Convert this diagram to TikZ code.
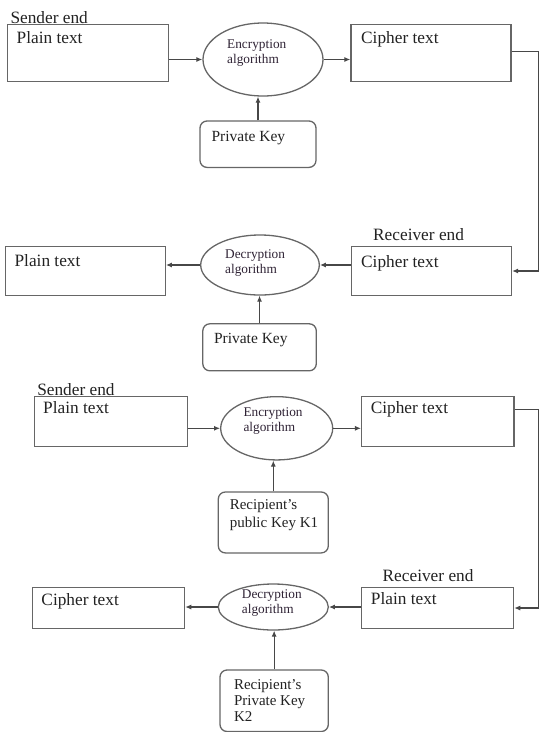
\documentclass[tikz,border=0pt]{standalone}
\usepackage{fontspec}
\setmainfont{Liberation Serif}
\usetikzlibrary{shapes.geometric,arrows.meta}
\definecolor{boxline}{HTML}{666666}
\definecolor{inktext}{HTML}{222222}
\definecolor{algtext}{HTML}{2E2234}

\begin{document}
\begin{tikzpicture}
  [x=1pt,y=-1pt,
   textbox/.style={draw=boxline,line width=1.3pt,rectangle,inner sep=0pt},
   keybox/.style={textbox,rounded corners=7pt},
   algo/.style={draw=boxline,line width=1.3pt,ellipse,inner sep=0pt},
   boxlabel/.style={anchor=base west,inner sep=0pt,text=inktext,font=\fontsize{17.3}{20}\selectfont},
   keylabel/.style={anchor=base west,inner sep=0pt,align=left,text=inktext,font=\fontsize{15.5}{17.5}\selectfont},
   algolabel/.style={anchor=north west,inner sep=0pt,align=left,text=algtext,font=\fontsize{13.3}{15}\selectfont},
   flow/.style={draw=boxline!70!black,line width=1.1pt,-{Latex[length=6pt,width=5pt]}}]
  \useasboundingbox (0,0) rectangle (539,732);
  \coordinate (rim) at (538.8,0);

  % symmetric key: sender end
  \node[boxlabel] (send1) at (10.3,23.4) {Sender end};
  \node[textbox,minimum width=160.8pt,minimum height=56.8pt] (plain1) at (88,53.1) {};
  \node[algo,minimum width=120pt,minimum height=73pt] (enc1) at (263,59.5) {};
  \node[textbox,minimum width=160pt,minimum height=56.8pt] (cipher1) at (431,53.1) {};
  \node[keybox,minimum width=116pt,minimum height=46.4pt] (key1) at (258,144.2) {};
  \node[boxlabel] (plain1t) at (16.5,43.7) {Plain text};
  \node[boxlabel] (cipher1t) at (361,43.7) {Cipher text};
  \node[algolabel] (enc1t) at (227,39.4) {Encryption\\algorithm};
  \node[keylabel] (key1t) at (211.4,141.6) {Private Key};

  % symmetric key: receiver end
  \node[boxlabel] (recv2) at (373,240.6) {Receiver end};
  \node[textbox,minimum width=160.1pt,minimum height=49.2pt] (plain2) at (85.25,271) {};
  \node[algo,minimum width=118.6pt,minimum height=60pt] (dec2) at (260,265) {};
  \node[textbox,minimum width=160.2pt,minimum height=49.2pt] (cipher2) at (431.4,271) {};
  \node[keybox,minimum width=113.5pt,minimum height=47pt] (key2) at (259.55,347.3) {};
  \node[boxlabel] (plain2t) at (14.4,266) {Plain text};
  \node[boxlabel] (cipher2t) at (361,267) {Cipher text};
  \node[algolabel] (dec2t) at (225,249.3) {Decryption\\algorithm};
  \node[keylabel] (key2t) at (213.8,343.7) {Private Key};

  % public key: sender end
  \node[boxlabel] (send3) at (37.1,395) {Sender end};
  \node[textbox,minimum width=152.9pt,minimum height=49.5pt] (plain3) at (110.85,421.55) {};
  \node[algo,minimum width=112pt,minimum height=63.3pt] (enc3) at (276.7,428.3) {};
  \node[textbox,minimum width=152.4pt,minimum height=49.5pt] (cipher3) at (437.8,421.55) {};
  \node[keybox,minimum width=110pt,minimum height=60.9pt] (key3) at (273.3,522.45) {};
  \node[boxlabel] (plain3t) at (43,413) {Plain text};
  \node[boxlabel] (cipher3t) at (370.6,413) {Cipher text};
  \node[algolabel] (enc3t) at (243.3,407.7) {Encryption\\algorithm};
  \node[keylabel,anchor=north west,font=\fontsize{15}{18}\selectfont] (key3t) at (229.6,499.8) {Recipient’s\\public Key K1};

  % public key: receiver end
  \node[boxlabel] (recv4) at (382.5,581.8) {Receiver end};
  \node[textbox,minimum width=151.9pt,minimum height=41.5pt] (cipher4) at (108.65,608) {};
  \node[algo,minimum width=110pt,minimum height=46pt] (dec4) at (273.3,607) {};
  \node[textbox,minimum width=152pt,minimum height=41.5pt] (plain4) at (437.6,608) {};
  \node[keybox,minimum width=108.3pt,minimum height=61.5pt] (key4) at (274.15,700.75) {};
  \node[boxlabel] (cipher4t) at (41.3,605) {Cipher text};
  \node[boxlabel] (plain4t) at (370.7,604.5) {Plain text};
  \node[algolabel] (dec4t) at (241.7,589.3) {Decryption\\algorithm};
  \node[keylabel,anchor=north west,font=\fontsize{15}{15.8}\selectfont] (key4t) at (233.8,679.8) {Recipient’s\\Private Key\\K2};

  % connectors
  \draw[flow] (plain1.east |- enc1.west) -- (enc1.west);
  \draw[flow] (enc1.east) -- (cipher1.west |- enc1.east);
  \draw[flow] (dec2.west) -- (plain2.east |- dec2.west);
  \draw[flow] (cipher2.west |- dec2.east) -- (dec2.east);
  \draw[flow] (plain3.east |- enc3.west) -- (enc3.west);
  \draw[flow] (enc3.east) -- (cipher3.west |- enc3.east);
  \draw[flow] (dec4.west) -- (cipher4.east |- dec4.west);
  \draw[flow] (plain4.west |- dec4.east) -- (dec4.east);
  \foreach \from/\to in {key1/enc1,key2/dec2,key3/enc3,key4/dec4}
    \draw[flow] (\from.north) -- (\from.north |- \to.south);
  \draw[flow] ([yshift=-27pt]cipher1.north east) -| (rim |- cipher2.east) -- (cipher2.east);
  \draw[flow] ([yshift=-13pt]cipher3.north east) -| (rim |- plain4.east) -- (plain4.east);
\end{tikzpicture}
\end{document}
